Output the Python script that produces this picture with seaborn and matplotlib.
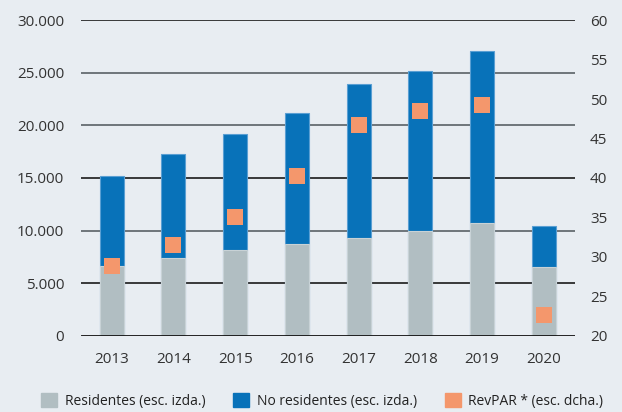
import numpy as np
import pandas as pd
import matplotlib
matplotlib.use('Agg')
import matplotlib.pyplot as plt
import matplotlib.ticker as mticker
from matplotlib.patches import Patch
import seaborn as sns

# datos
years = ['2013', '2014', '2015', '2016', '2017', '2018', '2019', '2020']
residentes = [6600, 7360, 8120, 8690, 9320, 9960, 10750, 6530]
no_residentes_total = [15190, 17310, 19160, 21180, 23910, 25180, 27110, 10430]
revpar = [28.9, 31.5, 35.1, 40.2, 46.7, 48.5, 49.3, 22.6]

df = pd.DataFrame({'year': years, 'res': residentes,
                   'total': no_residentes_total, 'revpar': revpar})

bg = '#e8edf2'
c_res = '#b1bec2'
c_nores = '#0872b9'
c_rev = '#f4976c'

sns.set_style('white')
plt.rcParams['font.family'] = ['Open Sans', 'DejaVu Sans']

fig = plt.figure(figsize=(6.22, 4.12), dpi=100, facecolor=bg)
ax = fig.add_axes([0.130, 0.185, 0.794, 0.766])
ax.set_facecolor(bg)

# barras apiladas: total (no residentes encima) y residentes debajo
sns.barplot(data=df, x='year', y='total', color=c_nores, width=0.39,
            saturation=1, edgecolor='#5a9fd3', linewidth=0.8, ax=ax)
sns.barplot(data=df, x='year', y='res', color=c_res, width=0.39,
            saturation=1, edgecolor='#c8d2d6', linewidth=0.8, ax=ax)
for p in ax.patches:
    p.set_zorder(3)

ax.set_ylim(0, 30000)
ax.set_xlim(-0.5, 7.5)
ax.set_yticks(np.arange(0, 30001, 5000))
ax.yaxis.set_major_formatter(mticker.FuncFormatter(lambda v, p: f'{int(v):,}'.replace(',', '.')))
for yv in np.arange(5000, 30001, 5000):
    col = '#1a1a1a' if yv in (5000, 15000, 30000) else '#5a6166'
    ax.axhline(yv, color=col, lw=1.2, zorder=1)
ax.axhline(0, color='#111111', lw=2, zorder=5)
ax.set_xlabel('')
ax.set_ylabel('')
for s in ax.spines.values():
    s.set_visible(False)
ax.tick_params(axis='both', length=0, labelsize=11, colors='#333333')
ax.tick_params(axis='y', pad=12)
ax.tick_params(axis='x', pad=12)

# RevPAR eje derecho
ax2 = ax.twinx()
sns.pointplot(data=df, x='year', y='revpar', color=c_rev, marker='s',
              markersize=12, linestyle='none', errorbar=None, ax=ax2)
for l in ax2.lines:
    l.set_markeredgewidth(0)
ax2.set_ylim(20, 60)
ax2.set_xlim(-0.5, 7.5)
ax2.set_yticks(np.arange(20, 61, 5))
ax2.set_ylabel('')
ax2.set_xlabel('')
for s in ax2.spines.values():
    s.set_visible(False)
ax2.tick_params(axis='y', length=0, labelsize=11, colors='#333333', pad=11)

handles = [Patch(color=c_res, label='Residentes (esc. izda.)'),
           Patch(color=c_nores, label='No residentes (esc. izda.)'),
           Patch(color=c_rev, label='RevPAR * (esc. dcha.)')]
fig.legend(handles=handles, loc='center', bbox_to_anchor=(0.518, 0.027), ncol=3,
           frameon=False, fontsize=10, handlelength=1.15, handleheight=1.15,
           handletextpad=0.55, columnspacing=2.0, labelcolor='#222222',
           borderaxespad=0, borderpad=0)

fig.savefig('out.png', dpi=100, facecolor=bg)
